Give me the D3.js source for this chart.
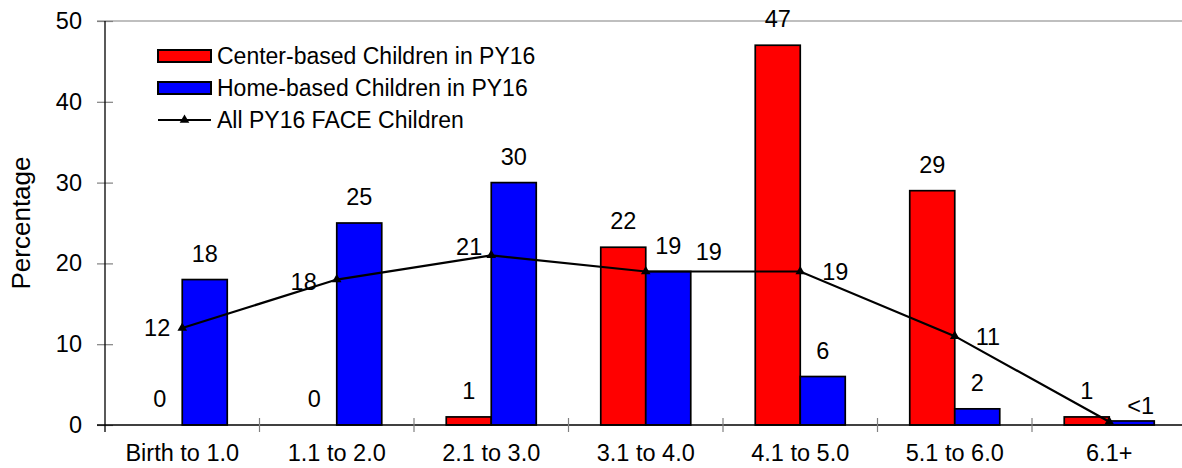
<!DOCTYPE html>
<html>
<head>
<meta charset="utf-8">
<script src="https://cdn.jsdelivr.net/npm/d3@7"></script>
<style>
  html, body { margin: 0; padding: 0; background: #fff; }
  svg { display: block; font-family: Arial, "Liberation Sans", sans-serif; }
</style>
</head>
<body>
<svg id="chart" width="1182" height="468"></svg>
<script>
// ---- data ----
const categories = ["Birth to 1.0", "1.1 to 2.0", "2.1 to 3.0", "3.1 to 4.0", "4.1 to 5.0", "5.1 to 6.0", "6.1+"];
const centerValues = [0, 0, 1, 22, 47, 29, 1];
const centerLabels = ["0", "0", "1", "22", "47", "29", "1"];
const homeValues = [18, 25, 30, 19, 6, 2, 0.5];
const homeLabels = ["18", "25", "30", "19", "6", "2", "<1"];
const allValues = [12, 18, 21, 19, 19, 11, 0.4];
const allLabels = ["12", "18", "21", "19", "19", "11", ""];
const yTicks = [0, 10, 20, 30, 40, 50];
const seriesNames = ["Center-based Children in PY16", "Home-based Children in PY16", "All PY16 FACE Children"];

// ---- layout / style ----
const FS = 23.5;
const mLeft = 105, mTop = 21, mBottom = 425, step = 154.5;
const barW = 45;
const svg = d3.select("#chart");

const x = d3.scaleBand().domain(categories).range([mLeft, mLeft + step * categories.length]).padding(0);
const y = d3.scaleLinear().domain([0, 50]).range([mBottom, mTop]);
const cx = c => x(c) + x.bandwidth() / 2;

// top border line at 50
svg.append("line").attr("x1", mLeft - 8).attr("x2", 1182)
  .attr("y1", y(50)).attr("y2", y(50)).attr("stroke", "#808080").attr("stroke-width", 1.2);

// bars
const g = svg.append("g");
g.selectAll("rect.center").data(categories).join("rect")
  .attr("x", c => cx(c) - barW).attr("width", barW)
  .attr("y", (c, i) => y(centerValues[i])).attr("height", (c, i) => y(0) - y(centerValues[i]))
  .attr("fill", "#ff0000").attr("stroke", "#000").attr("stroke-width", 1.7)
  .style("display", (c, i) => centerValues[i] > 0 ? null : "none");
g.selectAll("rect.home").data(categories).join("rect")
  .attr("x", c => cx(c)).attr("width", barW)
  .attr("y", (c, i) => y(homeValues[i])).attr("height", (c, i) => y(0) - y(homeValues[i]))
  .attr("fill", "#0000ff").attr("stroke", "#000").attr("stroke-width", 1.7);

// y axis
const yAxis = d3.axisLeft(y).tickValues(yTicks).tickSize(8).tickPadding(15);
const ya = svg.append("g").attr("transform", `translate(${mLeft},0)`).call(yAxis);
ya.select(".domain").remove();
ya.selectAll(".tick line").attr("x1", -8).attr("x2", 8).attr("stroke", "#808080").attr("stroke-width", 1.2);
ya.selectAll(".tick text").attr("font-size", FS).attr("fill", "#000").style("font-family", "Arial, 'Liberation Sans', sans-serif");
svg.append("line").attr("x1", mLeft).attr("x2", mLeft).attr("y1", y(50)).attr("y2", mBottom + 7)
  .attr("stroke", "#000").attr("stroke-width", 1.3);

// x axis
svg.append("line").attr("x1", mLeft - 8).attr("x2", 1182).attr("y1", mBottom).attr("y2", mBottom)
  .attr("stroke", "#000").attr("stroke-width", 1.3);
svg.selectAll("line.xt").data(categories.slice(1)).join("line")
  .attr("x1", c => x(c)).attr("x2", c => x(c)).attr("y1", mBottom - 7).attr("y2", mBottom + 7)
  .attr("stroke", "#808080").attr("stroke-width", 1.2);
svg.selectAll("text.xl").data(categories).join("text")
  .attr("x", c => cx(c)).attr("y", 453).attr("dy", "0.35em")
  .attr("text-anchor", "middle").attr("font-size", FS).text(c => c);

// y label
svg.append("text").attr("transform", "translate(21,223) rotate(-90)")
  .attr("text-anchor", "middle").attr("dy", "0.35em").attr("font-size", 26).text("Percentage");

// line
const line = d3.line().x((d, i) => cx(categories[i])).y(d => y(d));
svg.append("path").datum(allValues).attr("d", line)
  .attr("fill", "none").attr("stroke", "#000").attr("stroke-width", 2.2);
const tri = d3.symbol().type(d3.symbolTriangle).size(40);
svg.selectAll("path.mk").data(allValues).join("path")
  .attr("d", tri).attr("transform", (d, i) => `translate(${cx(categories[i])},${y(d)})`).attr("fill", "#000");

// bar labels
const barLabelGap = 26;
svg.selectAll("text.cl").data(categories).join("text")
  .attr("x", c => cx(c) - barW / 2).attr("y", (c, i) => y(centerValues[i]) - barLabelGap).attr("dy", "0.35em")
  .attr("text-anchor", "middle").attr("font-size", FS).text((c, i) => centerLabels[i]);
const homeOff = [[0,0],[0,0],[0,0],[0,0],[0,0],[0,0],[9,11]];
svg.selectAll("text.hl").data(categories).join("text")
  .attr("x", (c, i) => cx(c) + barW / 2 + homeOff[i][0])
  .attr("y", (c, i) => y(homeValues[i]) - barLabelGap + homeOff[i][1]).attr("dy", "0.35em")
  .attr("text-anchor", "middle").attr("font-size", FS).text((c, i) => homeLabels[i]);

// line labels
const lineOff = [["end",-12,0],["end",-20,2],["end",-9,-9],["start",50,-20],["start",22,0],["start",21,1],["start",0,0]];
svg.selectAll("text.ll").data(categories).join("text")
  .attr("x", (c, i) => cx(c) + lineOff[i][1]).attr("y", (c, i) => y(allValues[i]) + lineOff[i][2])
  .attr("dy", "0.35em").attr("text-anchor", (c, i) => lineOff[i][0])
  .attr("font-size", FS).text((c, i) => allLabels[i]);

// legend
const lg = svg.append("g");
const ly = [56, 88, 120];
lg.append("rect").attr("x", 158).attr("y", ly[0] - 6).attr("width", 53).attr("height", 12)
  .attr("fill", "#ff0000").attr("stroke", "#000").attr("stroke-width", 2);
lg.append("rect").attr("x", 158).attr("y", ly[1] - 6).attr("width", 53).attr("height", 12)
  .attr("fill", "#0000ff").attr("stroke", "#000").attr("stroke-width", 2);
lg.append("line").attr("x1", 158).attr("x2", 211).attr("y1", ly[2]).attr("y2", ly[2])
  .attr("stroke", "#000").attr("stroke-width", 2.2);
lg.append("path").attr("d", tri).attr("transform", `translate(184.5,${ly[2]})`).attr("fill", "#000");
lg.selectAll("text").data(seriesNames).join("text")
  .attr("x", 217).attr("y", (d, i) => ly[i]).attr("dy", "0.35em")
  .attr("font-size", 23).text(d => d);
</script>
</body>
</html>
